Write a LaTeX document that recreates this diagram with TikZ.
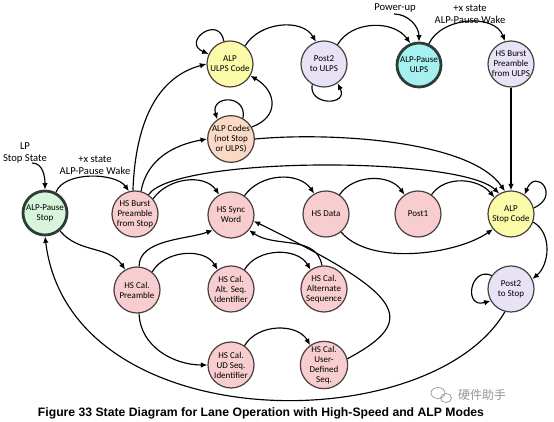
\documentclass[tikz,border=0pt]{standalone}
\usepackage{fontspec}
\setmainfont{Carlito}
\newfontfamily\capfont{Liberation Sans}
\newfontfamily\cjkfont{Noto Sans CJK SC}
\usetikzlibrary{arrows.meta}
\definecolor{pinkc}{RGB}{247,205,208}
\definecolor{yelc}{RGB}{250,250,168}
\definecolor{lavc}{RGB}{232,226,246}
\definecolor{peachc}{RGB}{250,218,196}
\definecolor{greenc}{RGB}{214,245,218}
\definecolor{cyanc}{RGB}{166,240,240}
\definecolor{bordc}{RGB}{75,62,62}
\definecolor{thickc}{RGB}{45,60,55}
\definecolor{wmc}{RGB}{150,150,150}
\begin{document}
\begin{tikzpicture}[x=1pt,y=1pt,
  st/.style={circle,draw=bordc,line width=1.2pt,minimum size=46pt,inner sep=0pt,align=center,
             font=\fontsize{9}{10}\selectfont},
  hs/.style={st,fill=pinkc},
  yel/.style={st,fill=yelc},
  lav/.style={st,fill=lavc},
  peach/.style={st,fill=peachc},
  pausest/.style={st,draw=thickc,line width=2.8pt,minimum size=44pt},
  conn/.style={-{Latex[length=6.5pt,width=5.5pt]},line width=1.15pt,black},
  lbl/.style={font=\fontsize{10.6}{12}\selectfont,align=center,inner sep=0pt}
]
\useasboundingbox (0,0) rectangle (554,422);
\fill[white] (0,0) rectangle (554,422);

% nodes
\node[pausest,fill=greenc] (aps) at (45,209) {ALP-Pause\\Stop};
\node[hs] (hbs) at (135,208) {HS Burst\\Preamble\\from Stop};
\node[hs] (sync) at (231,207) {HS Sync\\Word};
\node[hs] (data) at (326,208) {HS Data};
\node[hs] (post1) at (418,208) {Post1};
\node[yel] (asc) at (511,208) {ALP\\Stop Code};
\node[lav] (p2s) at (511,133) {Post2\\to Stop};
\node[yel] (ulps) at (230,358) {ALP\\ULPS Code};
\node[lav] (p2u) at (324,358) {Post2\\to ULPS};
\node[peach] (codes) at (231,283) {ALP Codes\\(not Stop\\or ULPS)};
\node[pausest,fill=cyanc] (apu) at (419,357) {ALP-Pause\\ULPS};
\node[lav] (hbu) at (511,358) {HS Burst\\Preamble\\from ULPS};
\node[hs] (calp) at (137,132) {HS Cal.\\Preamble};
\node[hs] (altid) at (231,133) {HS Cal.\\Alt. Seq.\\Identifier};
\node[hs] (alt) at (324,133) {HS Cal.\\Alternate\\Sequence};
\node[hs] (udid) at (231,57) {HS Cal.\\UD Seq.\\Identifier};
\node[hs] (ud) at (324,57) {HS Cal.\\User-\\Defined\\Seq.};

% labels
\node[lbl] (lp) at (25,269) {LP\\Stop State};
\coordinate (lpstart) at (32,259);
\node[lbl] (wake1) at (95,257) {+x state\\ALP-Pause Wake};
\node[lbl] (pu) at (395,414) {Power-up};
\coordinate (pustart) at (394,408);
\node[lbl] (wake2) at (470,408) {+x state\\ALP-Pause Wake};

% connectors
\draw[conn] (lpstart) to[out=0,in=90] (aps.north);
\draw[conn] (aps.62) to[out=70,in=125,looseness=0.8] (hbs.105);
\draw[conn] (aps.-50) to[out=-50,in=125] (calp.120);
\draw[conn] (hbs.95) to[out=88,in=195] (ulps.west);
\draw[conn] (hbs.75) to[out=80,in=190] (codes.west);
\draw[conn] (hbs.55) .. controls (175,266) and (460,266) .. (asc.120);
\draw[conn] (hbs.40) to[out=55,in=125] (sync.120);
\draw[conn] (sync.55) to[out=55,in=125] (data.120);
\draw[conn] (data.55) to[out=55,in=125] (post1.125);
\draw[conn] (post1.55) to[out=55,in=130] (asc.135);
\draw[conn] (codes.east) .. controls (330,290) and (470,282) .. (asc.105);
\draw[conn] (data.-50) to[out=-50,in=-145,looseness=0.75] (asc.-140);
\draw[conn] (asc.-20) to[out=-30,in=40] (p2s.25);
\draw[conn] (asc.15) .. controls (561,226) and (536,255) .. (asc.55);
\draw[conn] (hbu) -- (asc);
\draw[conn] (p2s.145) .. controls (470,156) and (463,113) .. (p2s.-150);
\draw[conn] (p2s.-105) .. controls (430,-18) and (70,-18) .. (aps.-90);
\draw[conn] (calp.85) to[out=90,in=-160,looseness=0.85] (sync.-140);
\draw[conn] (calp.50) to[out=60,in=120] (altid.125);
\draw[conn] (altid.55) to[out=60,in=120] (alt.125);
\draw[conn] (alt.95) to[out=100,in=-35] (sync.-40);
\draw[conn] (ud.15) .. controls (420,102) and (405,127) .. (sync.-15);
\draw[conn] (calp.-85) to[out=-88,in=180] (udid.west);
\draw[conn] (udid.55) to[out=60,in=120] (ud.125);
\draw[conn] (ulps.105) .. controls (219,408) and (181,380) .. (ulps.155);
\draw[conn] (codes.60) .. controls (247.5,328) and (209.8,327) .. (codes.125);
\draw[conn] (ulps.50) to[out=60,in=120] (p2u.110);
\draw[conn] (p2u.-120) .. controls (308,316) and (349,316) .. (p2u.-55);
\draw[conn] (p2u.55) to[out=60,in=125] (apu.112);
\draw[conn] (codes.30) to[out=20,in=-30,looseness=1.5] (ulps.-30);
\draw[conn] (apu.65) to[out=65,in=110] (hbu.105);
\draw[conn] (pustart) to[out=0,in=90] (apu.north);

% caption and watermark
\node[inner sep=0pt,font=\capfont\bfseries\fontsize{12.2}{14}\selectfont] (cap) at (261,9)
  {Figure 33 State Diagram for Lane Operation with High-Speed and ALP Modes};
\node[inner sep=0pt,text=wmc,font=\cjkfont\fontsize{12}{13}\selectfont] (wm) at (482,27) {硬件助手};
\draw[wmc,line width=0.7pt] (438,29) ellipse (7pt and 5.5pt);
\draw[wmc,line width=0.7pt] (446,24) ellipse (5.5pt and 4.5pt);
\end{tikzpicture}
\end{document}
